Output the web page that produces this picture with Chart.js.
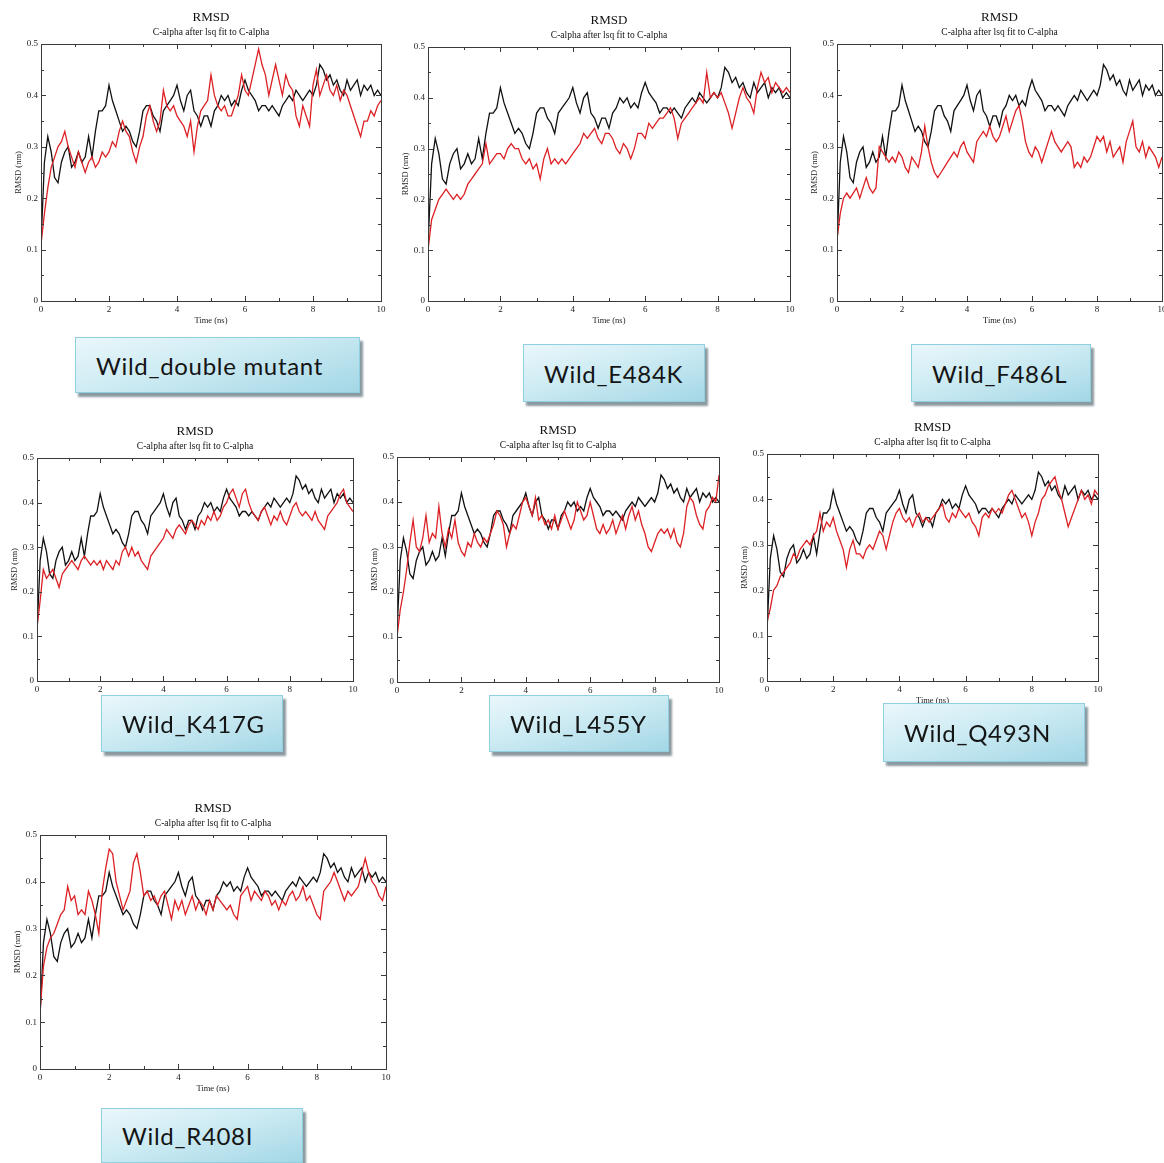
<!DOCTYPE html>
<html>
<head>
<meta charset="utf-8">
<script src="https://cdn.jsdelivr.net/npm/chart.js@4.4.1/dist/chart.umd.min.js"></script>
<style>
  html, body { margin: 0; padding: 0; background: #fff; }
  body { width: 1164px; height: 1163px; position: relative; overflow: hidden; }
  canvas { position: absolute; }
  .tag {
    position: absolute;
    box-sizing: border-box;
    border: 1px solid #8fcfdf;
    background: linear-gradient(165deg, #eaf7fb 0%, #cdebf3 45%, #a3d7e6 100%);
    box-shadow: 3px 4px 2px #8b9aa0;
    font-family: Lato, "Open Sans", sans-serif;
    font-size: 24px;
    letter-spacing: 0.7px;
    color: #151515;
    padding-left: 20px;
    display: flex;
    align-items: center;
    white-space: nowrap;
    z-index: 2;
  }
</style>
</head>
<body>

<script>
// time axis: 0 .. 10 ns, one sample every 0.1 ns
const timeNs = Array.from({ length: 101 }, (_, i) => i / 10);
const xTickValues = [0, 2, 4, 6, 8, 10];
const xMinorValues = [1, 3, 5, 7, 9];
const yTickValues = [0, 0.1, 0.2, 0.3, 0.4, 0.5];
const yMinorValues = [0.05, 0.15, 0.25, 0.35, 0.45];

// black trace (wild type), identical in every panel
const wildRmsd = [
  0.11, 0.27, 0.32, 0.29, 0.24, 0.23, 0.27, 0.29, 0.30, 0.26,
  0.27, 0.29, 0.27, 0.28, 0.32, 0.28, 0.33, 0.37, 0.37, 0.38,
  0.42, 0.39, 0.37, 0.35, 0.33, 0.34, 0.33, 0.31, 0.30, 0.33,
  0.37, 0.38, 0.38, 0.36, 0.35, 0.33, 0.37, 0.38, 0.39, 0.40,
  0.42, 0.39, 0.37, 0.40, 0.41, 0.37, 0.36, 0.34, 0.36, 0.36,
  0.34, 0.37, 0.38, 0.40, 0.39, 0.40, 0.38, 0.39, 0.38, 0.41,
  0.43, 0.41, 0.40, 0.39, 0.37, 0.38, 0.38, 0.37, 0.38, 0.37,
  0.36, 0.38, 0.39, 0.40, 0.39, 0.41, 0.40, 0.39, 0.40, 0.41,
  0.40, 0.42, 0.46, 0.45, 0.43, 0.44, 0.42, 0.43, 0.41, 0.40,
  0.43, 0.41, 0.42, 0.43, 0.40, 0.42, 0.41, 0.42, 0.40, 0.41,
  0.40
];

// red traces (mutants)
const doubleMutantRmsd = [
  0.11, 0.17, 0.22, 0.26, 0.28, 0.30, 0.31, 0.33, 0.30, 0.28,
  0.26, 0.29, 0.27, 0.25, 0.27, 0.28, 0.26, 0.27, 0.29, 0.28,
  0.29, 0.31, 0.30, 0.33, 0.35, 0.33, 0.32, 0.29, 0.27, 0.30,
  0.32, 0.36, 0.38, 0.35, 0.33, 0.35, 0.41, 0.38, 0.37, 0.38,
  0.36, 0.35, 0.34, 0.32, 0.35, 0.29, 0.34, 0.37, 0.38, 0.39,
  0.44, 0.40, 0.38, 0.37, 0.38, 0.36, 0.36, 0.38, 0.40, 0.44,
  0.41, 0.40, 0.43, 0.46, 0.49, 0.46, 0.44, 0.40, 0.43, 0.46,
  0.43, 0.40, 0.44, 0.42, 0.41, 0.36, 0.34, 0.38, 0.36, 0.34,
  0.42, 0.45, 0.40, 0.42, 0.44, 0.41, 0.40, 0.42, 0.39, 0.41,
  0.40, 0.38, 0.36, 0.34, 0.32, 0.35, 0.35, 0.37, 0.36, 0.38,
  0.39
];
const e484kRmsd = [
  0.10, 0.16, 0.18, 0.20, 0.21, 0.22, 0.21, 0.20, 0.21, 0.20,
  0.21, 0.23, 0.24, 0.25, 0.26, 0.27, 0.31, 0.27, 0.28, 0.29,
  0.29, 0.28, 0.30, 0.31, 0.30, 0.30, 0.28, 0.27, 0.28, 0.26,
  0.27, 0.24, 0.28, 0.30, 0.27, 0.28, 0.27, 0.28, 0.27, 0.28,
  0.29, 0.30, 0.31, 0.33, 0.32, 0.33, 0.34, 0.32, 0.31, 0.33,
  0.33, 0.32, 0.30, 0.29, 0.31, 0.30, 0.28, 0.30, 0.33, 0.33,
  0.32, 0.35, 0.34, 0.35, 0.36, 0.36, 0.37, 0.38, 0.36, 0.32,
  0.35, 0.36, 0.37, 0.38, 0.39, 0.40, 0.39, 0.45, 0.40, 0.41,
  0.40, 0.41, 0.39, 0.37, 0.34, 0.37, 0.40, 0.42, 0.40, 0.39,
  0.37, 0.42, 0.45, 0.43, 0.44, 0.41, 0.43, 0.42, 0.41, 0.42,
  0.41
];
const f486lRmsd = [
  0.12, 0.17, 0.20, 0.21, 0.20, 0.21, 0.22, 0.20, 0.22, 0.24,
  0.22, 0.21, 0.22, 0.30, 0.29, 0.28, 0.27, 0.28, 0.27, 0.29,
  0.28, 0.26, 0.25, 0.28, 0.27, 0.26, 0.29, 0.34, 0.30, 0.27,
  0.25, 0.24, 0.25, 0.26, 0.27, 0.28, 0.29, 0.28, 0.30, 0.31,
  0.29, 0.28, 0.27, 0.31, 0.32, 0.33, 0.32, 0.34, 0.32, 0.31,
  0.32, 0.34, 0.36, 0.33, 0.35, 0.37, 0.38, 0.35, 0.31, 0.29,
  0.28, 0.30, 0.29, 0.27, 0.29, 0.31, 0.33, 0.31, 0.30, 0.29,
  0.30, 0.31, 0.30, 0.26, 0.27, 0.26, 0.28, 0.27, 0.28, 0.30,
  0.32, 0.31, 0.32, 0.29, 0.31, 0.28, 0.29, 0.30, 0.27, 0.31,
  0.33, 0.35, 0.30, 0.29, 0.31, 0.28, 0.30, 0.29, 0.28, 0.26,
  0.28
];
const k417gRmsd = [
  0.12, 0.18, 0.25, 0.23, 0.24, 0.25, 0.23, 0.21, 0.24, 0.25,
  0.26, 0.27, 0.26, 0.25, 0.27, 0.28, 0.27, 0.26, 0.27, 0.26,
  0.27, 0.25, 0.27, 0.26, 0.25, 0.27, 0.26, 0.29, 0.30, 0.28,
  0.30, 0.28, 0.29, 0.27, 0.26, 0.25, 0.28, 0.29, 0.30, 0.31,
  0.32, 0.34, 0.33, 0.32, 0.34, 0.35, 0.34, 0.33, 0.35, 0.36,
  0.35, 0.34, 0.36, 0.35, 0.37, 0.36, 0.38, 0.36, 0.37, 0.39,
  0.40, 0.42, 0.43, 0.41, 0.39, 0.42, 0.43, 0.40, 0.38, 0.37,
  0.36, 0.38, 0.39, 0.37, 0.35, 0.37, 0.36, 0.38, 0.36, 0.35,
  0.37, 0.39, 0.40, 0.38, 0.37, 0.38, 0.37, 0.36, 0.38, 0.36,
  0.35, 0.34, 0.37, 0.38, 0.39, 0.40, 0.42, 0.43, 0.40, 0.39,
  0.38
];
const l455yRmsd = [
  0.10, 0.16, 0.20, 0.25, 0.31, 0.36, 0.30, 0.29, 0.32, 0.37,
  0.31, 0.33, 0.32, 0.39, 0.33, 0.30, 0.34, 0.32, 0.36, 0.31,
  0.29, 0.28, 0.31, 0.30, 0.33, 0.31, 0.30, 0.32, 0.31, 0.33,
  0.35, 0.38, 0.37, 0.35, 0.30, 0.33, 0.35, 0.34, 0.37, 0.40,
  0.41, 0.39, 0.37, 0.41, 0.36, 0.37, 0.35, 0.36, 0.34, 0.37,
  0.34, 0.36, 0.38, 0.36, 0.34, 0.36, 0.40, 0.38, 0.36, 0.37,
  0.40, 0.37, 0.34, 0.33, 0.35, 0.33, 0.34, 0.36, 0.33, 0.35,
  0.37, 0.34, 0.37, 0.39, 0.36, 0.38, 0.35, 0.33, 0.30, 0.29,
  0.31, 0.33, 0.34, 0.33, 0.34, 0.32, 0.34, 0.31, 0.30, 0.33,
  0.39, 0.41, 0.40, 0.37, 0.35, 0.34, 0.38, 0.39, 0.41, 0.40,
  0.46
];
const q493nRmsd = [
  0.13, 0.16, 0.20, 0.21, 0.23, 0.24, 0.25, 0.26, 0.28, 0.27,
  0.29, 0.30, 0.31, 0.30, 0.32, 0.33, 0.37, 0.33, 0.35, 0.34,
  0.36, 0.33, 0.31, 0.29, 0.25, 0.29, 0.31, 0.28, 0.28, 0.27,
  0.29, 0.30, 0.29, 0.31, 0.33, 0.32, 0.29, 0.32, 0.35, 0.37,
  0.38, 0.36, 0.35, 0.36, 0.34, 0.36, 0.37, 0.35, 0.36, 0.35,
  0.36, 0.37, 0.38, 0.39, 0.36, 0.35, 0.37, 0.36, 0.38, 0.37,
  0.36, 0.37, 0.35, 0.34, 0.32, 0.36, 0.37, 0.36, 0.38, 0.37,
  0.38, 0.37, 0.39, 0.41, 0.42, 0.40, 0.38, 0.36, 0.37, 0.35,
  0.32, 0.35, 0.37, 0.40, 0.41, 0.43, 0.44, 0.45, 0.42, 0.40,
  0.37, 0.34, 0.36, 0.38, 0.40, 0.42, 0.40, 0.41, 0.39, 0.42,
  0.41
];
const r408iRmsd = [
  0.12, 0.22, 0.26, 0.28, 0.29, 0.31, 0.33, 0.34, 0.39, 0.36,
  0.37, 0.33, 0.34, 0.33, 0.38, 0.36, 0.33, 0.29, 0.38, 0.43,
  0.47, 0.46, 0.40, 0.37, 0.34, 0.36, 0.38, 0.44, 0.46, 0.42,
  0.37, 0.38, 0.36, 0.37, 0.35, 0.37, 0.38, 0.35, 0.32, 0.36,
  0.34, 0.36, 0.33, 0.35, 0.37, 0.34, 0.36, 0.35, 0.33, 0.36,
  0.34, 0.37, 0.36, 0.35, 0.34, 0.35, 0.33, 0.32, 0.37, 0.38,
  0.39, 0.36, 0.38, 0.37, 0.36, 0.38, 0.37, 0.35, 0.36, 0.34,
  0.36, 0.35, 0.37, 0.38, 0.36, 0.37, 0.39, 0.36, 0.37, 0.35,
  0.33, 0.32, 0.38, 0.39, 0.40, 0.42, 0.40, 0.38, 0.36, 0.38,
  0.37, 0.38, 0.39, 0.42, 0.45, 0.42, 0.40, 0.39, 0.37, 0.36,
  0.39
];

// panel layout: plot box [left, top, right, bottom] in page px, label box [x, y, w, h]
const panels = [
  { name: 'Wild_double mutant', red: doubleMutantRmsd, plot: [41, 44, 381, 301], tag: [75, 337, 285, 56], xTitle: true },
  { name: 'Wild_E484K', red: e484kRmsd, plot: [428, 47, 790, 301], tag: [523, 344, 182, 58], xTitle: true },
  { name: 'Wild_F486L', red: f486lRmsd, plot: [837, 44, 1162, 301], tag: [911, 344, 180, 58], xTitle: true },
  { name: 'Wild_K417G', red: k417gRmsd, plot: [37, 458, 353, 681], tag: [101, 695, 182, 57], xTitle: false },
  { name: 'Wild_L455Y', red: l455yRmsd, plot: [397, 457, 719, 682], tag: [489, 695, 180, 57], xTitle: false },
  { name: 'Wild_Q493N', red: q493nRmsd, plot: [767, 454, 1098, 681], tag: [883, 703, 202, 59], xTitle: true },
  { name: 'Wild_R408I', red: r408iRmsd, plot: [40, 835, 386, 1069], tag: [101, 1108, 202, 55], xTitle: true }
];

const PAD_LEFT = 40, PAD_TOP = 40, PAD_RIGHT = 12, PAD_BOTTOM = 28;
const serif = '"Liberation Serif", "DejaVu Serif", serif';

// xmgrace-like frame with inward ticks and the two title lines
const graceFrame = {
    id: 'graceFrame',
    afterDraw(chart) {
        const { ctx, chartArea: a, scales: { x, y } } = chart;
        ctx.save();
        ctx.strokeStyle = '#3a3a3a';
        ctx.lineWidth = 1;
        ctx.strokeRect(Math.round(a.left) + 0.5, Math.round(a.top) + 0.5, Math.round(a.width), Math.round(a.height));
        ctx.beginPath();
        const tickX = (vals, len) => vals.forEach(v => {
            const px = Math.round(x.getPixelForValue(v)) + 0.5;
            ctx.moveTo(px, a.bottom); ctx.lineTo(px, a.bottom - len);
            ctx.moveTo(px, a.top); ctx.lineTo(px, a.top + len);
        });
        const tickY = (vals, len) => vals.forEach(v => {
            const py = Math.round(y.getPixelForValue(v)) + 0.5;
            ctx.moveTo(a.left, py); ctx.lineTo(a.left + len, py);
            ctx.moveTo(a.right, py); ctx.lineTo(a.right - len, py);
        });
        tickX(xTickValues, 5); tickX(xMinorValues, 3);
        tickY(yTickValues, 5); tickY(yMinorValues, 3);
        ctx.stroke();

        const cx = (a.left + a.right) / 2;
        ctx.fillStyle = '#111';
        ctx.textAlign = 'center';
        ctx.textBaseline = 'middle';
        ctx.font = '13px ' + serif;
        ctx.fillText('RMSD', cx, a.top - 26);
        ctx.font = '9.5px ' + serif;
        ctx.fillText('C-alpha after lsq fit to C-alpha', cx, a.top - 12);
        ctx.restore();
    }
};

panels.forEach(p => {
    const [l, t, r, b] = p.plot;
    const canvas = document.createElement('canvas');
    canvas.width = r - l + PAD_LEFT + PAD_RIGHT;
    canvas.height = b - t + PAD_TOP + PAD_BOTTOM;
    canvas.style.left = (l - PAD_LEFT) + 'px';
    canvas.style.top = (t - PAD_TOP) + 'px';
    document.body.appendChild(canvas);

    new Chart(canvas, {
        type: 'line',
        data: {
            datasets: [{
                label: p.name.replace('Wild_', ''),
                data: timeNs.map((tt, i) => ({ x: tt, y: p.red[i] })),
                borderColor: '#dc2024',
                borderWidth: 1.3,
                pointRadius: 0,
                tension: 0,
                order: 0
            },
            {
                label: 'Wild',
                data: timeNs.map((tt, i) => ({ x: tt, y: wildRmsd[i] })),
                borderColor: '#111111',
                borderWidth: 1.3,
                pointRadius: 0,
                tension: 0,
                order: 1
            }]
        },
        plugins: [graceFrame],
        options: {
            responsive: false,
            animation: false,
            layout: { padding: { left: 0, top: PAD_TOP, right: PAD_RIGHT, bottom: 0 } },
            plugins: {
                legend: { display: false },
                title: { display: false },
                tooltip: { enabled: false }
            },
            scales: {
                x: {
                    type: 'linear',
                    min: 0,
                    max: 10,
                    grid: { display: false, drawTicks: false, tickLength: 0 },
                    border: { display: false },
                    afterBuildTicks: s => { s.ticks = xTickValues.map(v => ({ value: v })); },
                    afterFit: s => { s.height = PAD_BOTTOM; },
                    ticks: { font: { family: serif, size: 9 }, color: '#222', padding: 3, maxRotation: 0 },
                    title: {
                        display: p.xTitle,
                        text: 'Time (ns)',
                        font: { family: serif, size: 8.5 },
                        color: '#222',
                        padding: { top: 0, bottom: 3 }
                    }
                },
                y: {
                    min: 0,
                    max: 0.5,
                    grid: { display: false, drawTicks: false, tickLength: 0 },
                    border: { display: false },
                    afterBuildTicks: s => { s.ticks = yTickValues.map(v => ({ value: v })); },
                    afterFit: s => { s.width = PAD_LEFT; },
                    ticks: {
                        font: { family: serif, size: 9 },
                        color: '#222',
                        padding: 3,
                        callback: v => v === 0 ? '0' : v.toFixed(1)
                    },
                    title: {
                        display: true,
                        text: 'RMSD (nm)',
                        font: { family: serif, size: 8.5 },
                        color: '#222',
                        padding: { top: 13, bottom: 0 }
                    }
                }
            }
        }
    });

    const tag = document.createElement('div');
    tag.className = 'tag';
    tag.textContent = p.name;
    const [tx, ty, tw, th] = p.tag;
    tag.style.left = tx + 'px';
    tag.style.top = ty + 'px';
    tag.style.width = tw + 'px';
    tag.style.height = th + 'px';
    document.body.appendChild(tag);
});
</script>
</body>
</html>
